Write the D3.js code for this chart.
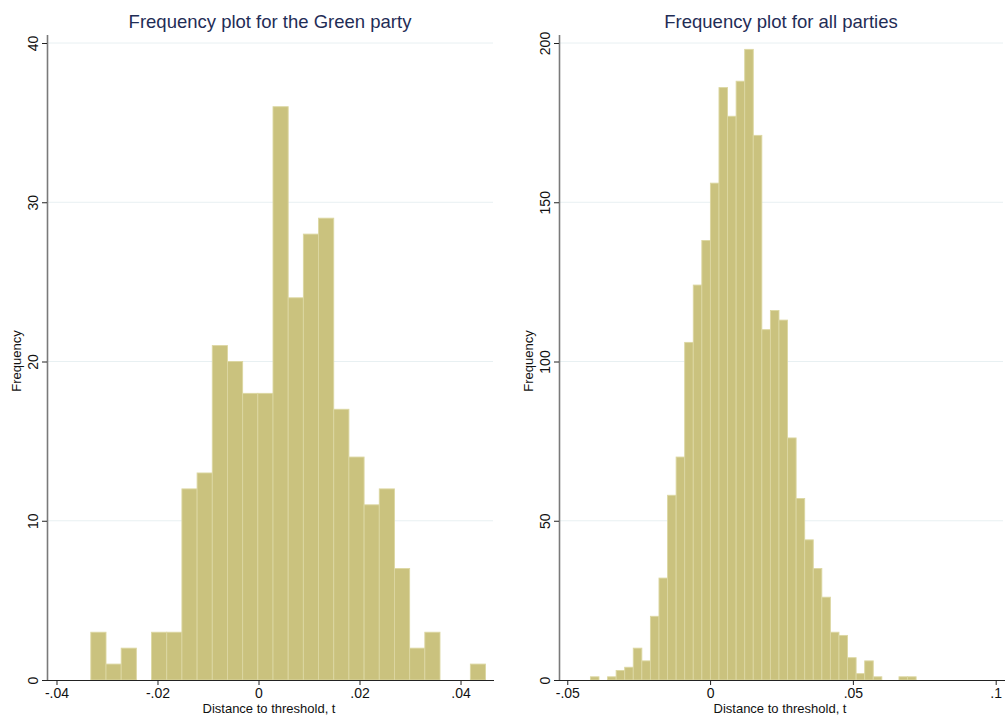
<!DOCTYPE html>
<html>
<head>
<meta charset="utf-8">
<script src="https://cdn.jsdelivr.net/npm/d3@7"></script>
<style>
body { margin: 0; background: #fff; }
svg { display: block; font-family: "Liberation Sans", Arial, sans-serif; }
</style>
</head>
<body>
<script>
// histogram bins (start, width, counts)
var greenBinStart = -0.0332;
var greenBinWidth = 0.003006;
var greenCounts = [3, 1, 2, 0, 3, 3, 12, 13, 21, 20, 18, 18, 36, 24, 28, 29, 17, 14, 11, 12, 7, 2, 3, 0, 0, 1];

var allBinStart = -0.0419;
var allBinWidth = 0.003001;
var allCounts = [1, 0, 1, 3, 4, 10, 6, 20, 32, 58, 70, 106, 124, 138, 156, 186, 177, 188, 198, 171,
  110, 116, 113, 76, 57, 44, 35, 26, 15, 14, 7, 2, 6, 1, 0, 0, 1, 1];

var greenXTicks = [-0.04, -0.02, 0, 0.02, 0.04];
var greenXLabels = ["-.04", "-.02", "0", ".02", ".04"];
var greenYTicks = [0, 10, 20, 30, 40];

var allXTicks = [-0.05, 0, 0.05, 0.1];
var allXLabels = ["-.05", "0", ".05", ".1"];
var allYTicks = [0, 50, 100, 150, 200];

var W = 1005, H = 717;
var svg = d3.select("body").append("svg").attr("width", W).attr("height", H);

function panel(opt) {
  var g = svg.append("g");
  var x = d3.scaleLinear().domain(opt.xDomain).range([opt.xLeft, opt.xRight]);
  var y = d3.scaleLinear().domain(opt.yDomain).range([680, 43]);
  var axisX = opt.axisX;

  // gridlines
  g.selectAll("line.grid")
    .data(opt.yTicks.filter(function(d) { return d > 0; }))
    .enter().append("line")
    .attr("class", "grid")
    .attr("x1", axisX).attr("x2", opt.gridRight)
    .attr("y1", function(d) { return y(d); })
    .attr("y2", function(d) { return y(d); })
    .attr("stroke", "#e8f0f2").attr("stroke-width", 1);

  // bars
  var bins = opt.counts.map(function(c, i) {
    return { x0: opt.start + i * opt.width, x1: opt.start + (i + 1) * opt.width, n: c };
  }).filter(function(b) { return b.n > 0; });

  g.selectAll("rect.bar")
    .data(bins)
    .enter().append("rect")
    .attr("class", "bar")
    .attr("x", function(d) { return x(d.x0); })
    .attr("width", function(d) { return x(d.x1) - x(d.x0); })
    .attr("y", function(d) { return y(d.n); })
    .attr("height", function(d) { return y(0) - y(d.n); })
    .attr("fill", "#cac27e")
    .attr("stroke", "#dcd7a2")
    .attr("stroke-width", 0.9);

  // x axis
  var xa = d3.axisBottom(x).tickValues(opt.xTicks)
    .tickFormat(function(d, i) { return opt.xLabels[i]; })
    .tickSize(5).tickPadding(3);
  var gx = g.append("g").attr("transform", "translate(0,680)").call(xa);
  gx.select(".domain").attr("d", "M" + opt.xLeft + ",0.5H" + opt.xRight).attr("stroke", "#222");
  gx.selectAll(".tick line").attr("stroke", "#222");
  gx.selectAll(".tick text").attr("font-size", 14).attr("fill", "#111").attr("dy", null).attr("y", 18);
  gx.attr("font-family", null);

  // y axis
  var ya = d3.axisLeft(y).tickValues(opt.yTicks).tickSize(5).tickFormat(d3.format("d"));
  var gy = g.append("g").attr("transform", "translate(" + axisX + ",0)").call(ya);
  gy.attr("font-family", null);
  gy.select(".domain").attr("d", "M0.5,35V680").attr("stroke", "#7a7a7a").attr("stroke-width", 1.6);
  gy.selectAll(".tick line").attr("stroke", "#222");
  gy.selectAll(".tick text")
    .attr("font-size", 14).attr("fill", "#111")
    .attr("x", null).attr("dy", null)
    .attr("text-anchor", "middle")
    .attr("transform", "translate(-9.5,0) rotate(-90)");

  // titles
  var cx = (axisX + opt.gridRight) / 2;
  g.append("text").attr("x", cx).attr("y", 28)
    .attr("text-anchor", "middle").attr("font-size", 18.5).attr("fill", "#1f2d56")
    .text(opt.title);
  g.append("text").attr("x", (opt.xLeft + opt.gridRight) / 2 + 1).attr("y", 713)
    .attr("text-anchor", "middle").attr("font-size", 13).attr("fill", "#111")
    .text("Distance to threshold, t");
  g.append("text")
    .attr("transform", "translate(" + (axisX - 26.5) + "," + 361 + ") rotate(-90)")
    .attr("text-anchor", "middle").attr("font-size", 13).attr("fill", "#111")
    .text("Frequency");
}

panel({
  title: "Frequency plot for the Green party",
  start: greenBinStart, width: greenBinWidth, counts: greenCounts,
  xDomain: [-0.04267, 0.04663], xLeft: 43, xRight: 494, gridRight: 493, axisX: 47,
  yDomain: [0, 40], yTicks: greenYTicks, xTicks: greenXTicks, xLabels: greenXLabels
});

panel({
  title: "Frequency plot for all parties",
  start: allBinStart, width: allBinWidth, counts: allCounts,
  xDomain: [-0.0543, 0.10326], xLeft: 555, xRight: 1005, gridRight: 1003, axisX: 559,
  yDomain: [0, 200], yTicks: allYTicks, xTicks: allXTicks, xLabels: allXLabels
});
</script>
</body>
</html>
